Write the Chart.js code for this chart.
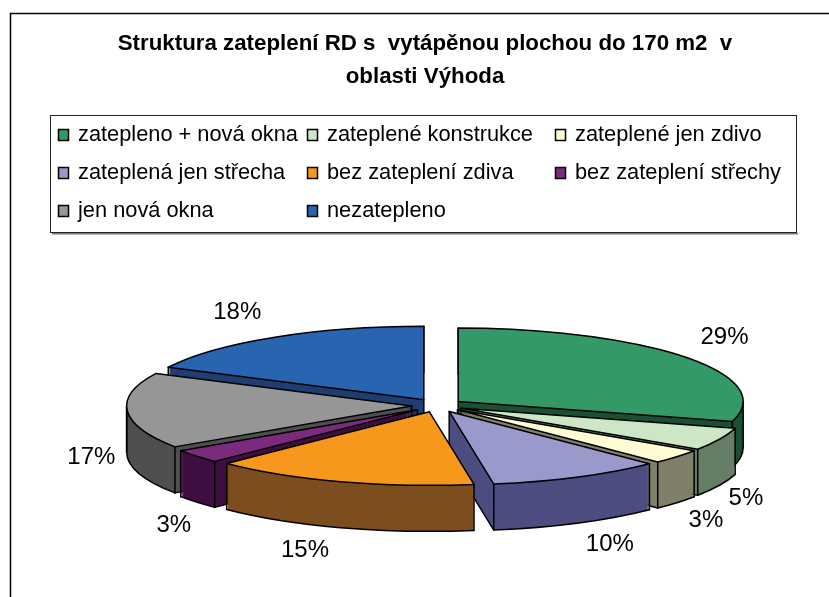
<!DOCTYPE html>
<html><head><meta charset="utf-8">
<style>html,body{margin:0;padding:0;background:#fff}canvas{display:block}</style>
<script src="https://cdn.jsdelivr.net/npm/chart.js@4"></script>
</head><body>
<div style="width:829px;height:597px"><canvas id="c" role="img" aria-label="Struktura zateplení RD"></canvas></div>
<script>
const titleLines = ['Struktura zateplení RD s  vytápěnou plochou do 170 m2  v', 'oblasti Výhoda'];
const categories = ['zatepleno + nová okna','zateplené konstrukce','zateplené jen zdivo','zateplená jen střecha','bez zateplení zdiva','bez zateplení střechy','jen nová okna','nezatepleno'];
const values = [29.4, 5.0, 3.2, 9.9, 15.1, 3.0, 16.7, 17.7];
const topColors = ['#339966','#CCE6C6','#FFFBD2','#9999CC','#F7981D','#7C2A7E','#969696','#2964B0'];
const sideColors = ['#1B5034','#667F66','#80806A','#4D4D80','#7D4E1F','#3F0F40','#4F4F4F','#1F3F73'];
const labelNudges = [[7,-3],[-10,1],[-2,0],[14,-4],[-23,-4],[8,5],[4,-1],[-15,-1]];

const view = {cx:437.5, cy:405.5, rx:285, ry:73.5, depth:46, explode:76};

const pie3d = {
  id:'pie3d',
  beforeDraw(chart){
    const c = chart.ctx;
    c.save();
    c.fillStyle='#fff'; c.fillRect(0,0,829,597);
    c.strokeStyle='#000'; c.lineWidth=1.5;
    c.beginPath(); c.moveTo(10.5,597); c.lineTo(10.5,13.5); c.lineTo(829,13.5); c.stroke();
    c.fillStyle='#777'; c.fillRect(52,233,746,1.5);
    c.strokeStyle='#222'; c.lineWidth=1;
    c.strokeRect(50.5,115.5,746,117);
    const cols=[58.5,307.5,555.5], rows=[135,173,211], textX=[78,327,575];
    c.font='21.8px "Liberation Sans", Arial, sans-serif';
    c.textBaseline='middle'; c.textAlign='left';
    categories.forEach((t,i)=>{
      const col=i%3, row=Math.floor(i/3);
      c.fillStyle=topColors[i];
      c.fillRect(cols[col],rows[row]-5.5,10,11);
      c.strokeStyle='#000'; c.lineWidth=1.5;
      c.strokeRect(cols[col],rows[row]-5.5,10,11);
      c.fillStyle='#000';
      c.fillText(t,textX[col],rows[row]);
    });
    c.restore();
  },
  beforeDatasetsDraw(chart){
    const c = chart.ctx, meta = chart.getDatasetMeta(0), arcs = meta.data;
    const off = view.explode/4;
    const Reff = arcs[0].outerRadius;
    const sx = view.rx/Reff, sy = view.ry/Reff;
    const geo = arcs.map((a,i)=>{
      const mid=(a.startAngle+a.endAngle)/2;
      return {a,i,mid,
        ax:view.cx+sx*Math.cos(mid)*off,
        ay:view.cy+sy*Math.sin(mid)*off};
    });
    const order = geo.slice().sort((p,q)=>Math.sin(p.mid)-Math.sin(q.mid));
    const paintFill=(g,color,dy)=>{
      const a=g.a, orig=a.options;
      a.options=Object.create(orig,{backgroundColor:{value:color},borderWidth:{value:0},offset:{value:0}});
      c.save();
      c.translate(g.ax,g.ay+dy);
      c.scale(sx,sy);
      c.translate(-a.x,-a.y);
      a.draw(c);
      c.restore();
      a.options=orig;
    };
    const perimeter=(g)=>{
      c.beginPath();
      c.moveTo(g.ax,g.ay);
      c.ellipse(g.ax,g.ay,view.rx,view.ry,0,g.a.startAngle,g.a.endAngle);
      c.closePath();
      c.stroke();
    };
    const line=(x1,y1,x2,y2)=>{c.beginPath();c.moveTo(x1,y1);c.lineTo(x2,y2);c.stroke();};
    c.save();
    c.lineJoin='round'; c.lineCap='round'; c.strokeStyle='#000'; c.lineWidth=1.5;
    order.forEach(g=>{
      const D=view.depth, a=g.a;
      for(let d=D;d>0;d--) paintFill(g,sideColors[g.i],d);
      // outer wall: lower rim, only on the near half of the ellipse
      const rimFrom=Math.max(a.startAngle,0), rimTo=Math.min(a.endAngle,Math.PI);
      if(rimTo>rimFrom){
        c.beginPath();
        c.ellipse(g.ax,g.ay+D,view.rx,view.ry,0,rimFrom,rimTo);
        c.stroke();
      }
      // radial walls that face the viewer: lower edge and upright corners
      const mx=view.rx*Math.cos(g.mid)*0.5, my=view.ry*Math.sin(g.mid)*0.5;
      [a.startAngle,a.endAngle].forEach(t=>{
        const ex=view.rx*Math.cos(t), ey=view.ry*Math.sin(t);
        const sign=ex>=0?1:-1;
        const facing=sign*(ex*my-ey*mx)<0;
        if(facing){
          line(g.ax,g.ay+D,g.ax+ex,g.ay+ey+D);
          line(g.ax,g.ay,g.ax,g.ay+D);
        }
        line(g.ax+ex,g.ay+ey,g.ax+ex,g.ay+ey+D);
      });
      [0,Math.PI,-Math.PI].forEach(t=>{
        const inside=[t,t+2*Math.PI].some(u=>u>=a.startAngle&&u<=a.endAngle);
        if(inside) line(g.ax+view.rx*Math.cos(t),g.ay,g.ax+view.rx*Math.cos(t),g.ay+D);
      });
      paintFill(g,topColors[g.i],0);
      perimeter(g);
    });
    c.fillStyle='#000';
    c.font='24px "Liberation Sans", Arial, sans-serif';
    c.textAlign='center'; c.textBaseline='middle';
    const total=values.reduce((s,v)=>s+v,0);
    geo.forEach(g=>{
      const cs=Math.cos(g.mid), sn=Math.sin(g.mid);
      const x=g.ax+cs*(view.rx+40)+labelNudges[g.i][0];
      const y=g.ay+sn*(view.ry+28)+(sn>0?view.depth:0)+labelNudges[g.i][1];
      c.fillText(Math.round(values[g.i]/total*100)+'%',x,y);
    });
    c.restore();
    return false;
  }
};

new Chart(document.getElementById('c'),{
  type:'pie',
  data:{labels:categories,datasets:[{data:values,backgroundColor:topColors,borderWidth:0,offset:view.explode}]},
  options:{
    responsive:true,maintainAspectRatio:false,animation:false,
    layout:{padding:{left:21}},
    plugins:{
      legend:{display:false},
      tooltip:{enabled:false},
      title:{display:true,text:titleLines,color:'#000',
        font:{family:'"Liberation Sans", Arial, sans-serif',size:22.3,weight:'bold',lineHeight:1.48},
        padding:{top:27,bottom:10}}
    }
  },
  plugins:[pie3d]
});
</script>
</body></html>
